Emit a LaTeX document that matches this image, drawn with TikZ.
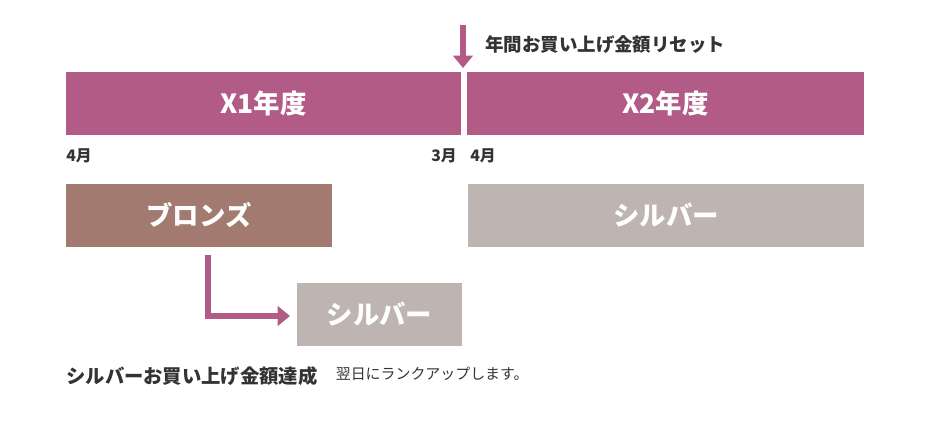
\documentclass[tikz,border=0pt]{standalone}
\usepackage{fontspec}
\setmainfont{Noto Sans CJK JP}
\usetikzlibrary{positioning,arrows.meta}
\definecolor{barcol}{HTML}{B25B87}
\definecolor{bronzecol}{HTML}{A27A70}
\definecolor{silvercol}{HTML}{BEB5B3}
\definecolor{textcol}{HTML}{333333}
\tikzset{
  bar/.style={draw=none, inner sep=0pt, text=white, font=\bfseries\fontsize{15}{15}\selectfont},
  label text/.style={inner sep=0pt, anchor=west, text=textcol, font=\bfseries\fontsize{9}{9}\selectfont},
  pinkarrow/.style={draw=barcol, line width=3pt, -{Triangle[length=7pt,width=11pt]}}
}
\begin{document}
\begin{tikzpicture}[x=0.02cm,y=-0.02cm]
        \useasboundingbox (0,0) rectangle (930,422);
        %Years
        \node [bar, fill=barcol, minimum width=7.9cm, minimum height=1.26cm] (y1) at (263.5,103.5) {X1年度};
        \node [bar, fill=barcol, minimum width=7.94cm, minimum height=1.26cm] (y2) at (665.5,103.5) {X2年度};
        \coordinate (rtop) at (463,25);
        \coordinate (rbot) at (463,68);
        \draw [pinkarrow] (rtop) -- (rbot);
        \node [label text, font=\bfseries\fontsize{10.5}{10.5}\selectfont] (reset) at (485,45) {年間お買い上げ金額リセット};
        \node [label text] (apr1) at (66,156) {4月};
        \node [label text] (mar1) at (431,156) {3月};
        \node [label text] (apr2) at (470,156) {4月};
        %Ranks
        \node [bar, fill=bronzecol, minimum width=5.32cm, minimum height=1.26cm] (bronze) at (199,215.5) {ブロンズ};
        \node [bar, fill=silvercol, minimum width=7.92cm, minimum height=1.26cm] (silver2) at (666,215.5) {シルバー};
        \node [bar, fill=silvercol, minimum width=3.3cm, minimum height=1.26cm] (silver1) at (379.5,314.5) {シルバー};
        \coordinate (up) at (208,255);
        \coordinate (tip) at (290,316);
        \draw [pinkarrow] (up) |- (tip);
        %Note
        \node [label text, font=\bfseries\fontsize{11}{11}\selectfont] (note) at (66,376) {シルバーお買い上げ金額達成};
        \node [label text, font=\fontsize{8.5}{8.5}\selectfont, right=10pt of note.east, yshift=1pt] (next) {翌日にランクアップします。};
\end{tikzpicture}
\end{document}
